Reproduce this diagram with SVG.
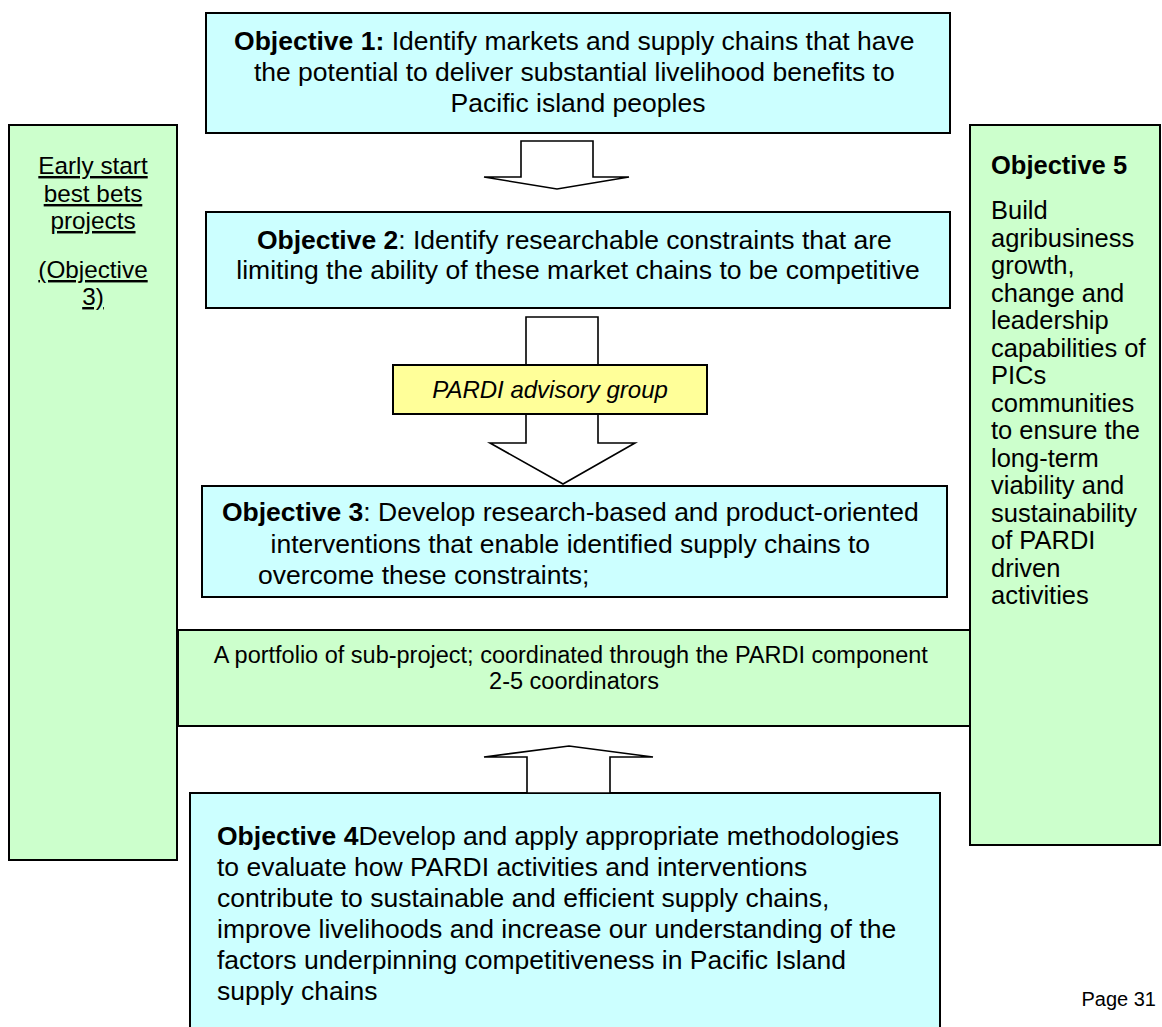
<svg xmlns="http://www.w3.org/2000/svg" width="1162" height="1027" viewBox="0 0 1162 1027">
<style>
  text { font-family: "Liberation Sans", Arial, sans-serif; fill: #000; }
  .box { stroke: #000; stroke-width: 2; }
  .cyan { fill: #ccffff; }
  .green { fill: #ccffcc; }
  .yellow { fill: #ffff99; }
  .arrow { fill: #fff; stroke: #000; stroke-width: 1.6; stroke-linejoin: miter; }
  .t26 { font-size: 26.5px; }
  .t24 { font-size: 24px; }
  .t25 { font-size: 25.5px; }
  .b { font-weight: bold; }
  .u { text-decoration: underline; font-size: 24.3px; }
</style>
<rect width="1162" height="1027" fill="#fff"/>

<g id="early-start">
  <rect class="box green" x="9" y="125" width="168" height="735"/>
  <g text-anchor="middle">
    <text class="u" x="93" y="174">Early start</text>
    <text class="u" x="93" y="202">best bets</text>
    <text class="u" x="93" y="229">projects</text>
    <text class="u" x="93" y="278">(Objective</text>
    <text class="u" x="93" y="305">3)</text>
  </g>
</g>

<g id="objective5">
  <rect class="box green" x="970" y="125" width="190" height="720"/>
  <text class="t25">
    <tspan class="b" x="991" y="174">Objective 5</tspan>
    <tspan x="991" y="219">Build</tspan>
    <tspan x="991" y="246.5">agribusiness</tspan>
    <tspan x="991" y="274">growth,</tspan>
    <tspan x="991" y="301.5">change and</tspan>
    <tspan x="991" y="329">leadership</tspan>
    <tspan x="991" y="356.5">capabilities of</tspan>
    <tspan x="991" y="384">PICs</tspan>
    <tspan x="991" y="411.5">communities</tspan>
    <tspan x="991" y="439">to ensure the</tspan>
    <tspan x="991" y="466.5">long-term</tspan>
    <tspan x="991" y="494">viability and</tspan>
    <tspan x="991" y="521.5">sustainability</tspan>
    <tspan x="991" y="549">of PARDI</tspan>
    <tspan x="991" y="576.5">driven</tspan>
    <tspan x="991" y="604">activities</tspan>
  </text>
</g>

<g id="portfolio">
  <rect class="box green" x="178" y="630" width="792" height="96"/>
  <text text-anchor="middle" style="font-size:23.5px">
    <tspan x="574" y="663">A portfolio of sub-project; coordinated through the PARDI component</tspan>
    <tspan x="574" y="689">2-5 coordinators</tspan>
  </text>
</g>

<g id="objective1">
  <rect class="box cyan" x="206" y="13" width="744" height="120"/>
  <text class="t26" text-anchor="middle">
    <tspan x="578" y="50"><tspan class="b">Objective 1:</tspan> Identify markets and supply chains that have</tspan>
    <tspan x="578" y="81">the potential to deliver substantial livelihood benefits to</tspan>
    <tspan x="578" y="112">Pacific island peoples</tspan>
  </text>
</g>

<g id="objective2">
  <rect class="box cyan" x="206" y="212" width="744" height="96"/>
  <text class="t26" text-anchor="middle">
    <tspan x="578" y="249"><tspan class="b">Objective 2</tspan>: Identify researchable constraints that are</tspan>
    <tspan x="578" y="279">limiting the ability of these market chains to be competitive</tspan>
  </text>
</g>

<g id="objective3">
  <rect class="box cyan" x="202" y="486" width="745" height="111"/>
  <text class="t26">
    <tspan x="574" y="521" text-anchor="middle"><tspan class="b">Objective 3</tspan>: Develop research-based and product-oriented</tspan>
    <tspan x="574" y="553" text-anchor="middle">interventions that enable identified supply chains to</tspan>
    <tspan x="258" y="584">overcome these constraints;</tspan>
  </text>
</g>

<g id="objective4">
  <rect class="box cyan" x="190" y="793" width="750" height="240"/>
  <text class="t26">
    <tspan x="217" y="845"><tspan class="b">Objective 4</tspan>Develop and apply appropriate methodologies</tspan>
    <tspan x="217" y="876">to evaluate how PARDI activities and interventions</tspan>
    <tspan x="217" y="907">contribute to sustainable and efficient supply chains,</tspan>
    <tspan x="217" y="938">improve livelihoods and increase our understanding of the</tspan>
    <tspan x="217" y="969">factors underpinning competitiveness in Pacific Island</tspan>
    <tspan x="217" y="1000">supply chains</tspan>
  </text>
</g>

<g id="connectors">
  <polygon class="arrow" points="521,141 593,141 593,177 629,177 557,189 484,177 521,177"/>
  <polygon class="arrow" points="526,317 598,317 598,443 635,443 563,484 490,443 526,443"/>
  <polygon class="arrow" points="527,793 527,757 484,757 569,746 653,757 610,757 610,793"/>
</g>

<g id="advisory-group">
  <rect class="box yellow" x="393" y="365" width="314" height="49"/>
  <text class="t24" text-anchor="middle" font-style="italic" x="550" y="398">PARDI advisory group</text>
</g>

<g id="page-number">
  <text x="1156" y="1006" text-anchor="end" style="font-size:20px">Page 31</text>
</g>
</svg>
